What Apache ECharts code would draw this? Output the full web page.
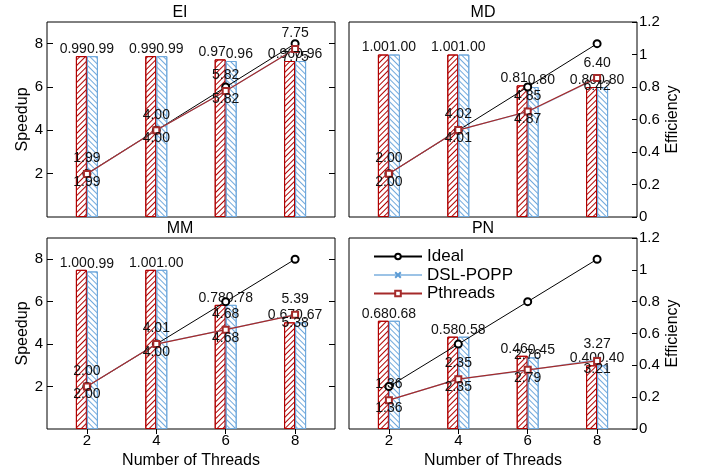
<!DOCTYPE html>
<html><head><meta charset="utf-8">
<script src="https://cdn.jsdelivr.net/npm/echarts@6/dist/echarts.min.js"></script>
<style>html,body{margin:0;padding:0;background:#fff}#c{width:706px;height:470px}</style>
</head><body><div id="c"></div>
<script>
const threads = [2, 4, 6, 8];
const panelNames = ['EI', 'MD', 'MM', 'PN'];
const idealSpeedup = [2, 4, 6, 8];

const eiPthreadsSpeedup = [1.99, 4.00, 5.82, 7.75];
const eiDslSpeedup      = [1.99, 4.00, 5.82, 7.75];
const eiPthreadsEff     = [0.99, 0.99, 0.97, 0.96];
const eiDslEff          = [0.99, 0.99, 0.96, 0.96];

const mdPthreadsSpeedup = [2.00, 4.01, 4.87, 6.42];
const mdDslSpeedup      = [2.00, 4.02, 4.85, 6.40];
const mdPthreadsEff     = [1.00, 1.00, 0.81, 0.80];
const mdDslEff          = [1.00, 1.00, 0.80, 0.80];

const mmPthreadsSpeedup = [2.00, 4.00, 4.68, 5.38];
const mmDslSpeedup      = [2.00, 4.01, 4.68, 5.39];
const mmPthreadsEff     = [1.00, 1.00, 0.78, 0.67];
const mmDslEff          = [0.99, 1.00, 0.78, 0.67];

const pnPthreadsSpeedup = [1.36, 2.35, 2.79, 3.21];
const pnDslSpeedup      = [1.36, 2.35, 2.76, 3.27];
const pnPthreadsEff     = [0.68, 0.58, 0.46, 0.40];
const pnDslEff          = [0.68, 0.58, 0.45, 0.40];

const speedupTicks = [2, 4, 6, 8];

const panelData = [
  [eiPthreadsSpeedup, eiDslSpeedup, eiPthreadsEff, eiDslEff],
  [mdPthreadsSpeedup, mdDslSpeedup, mdPthreadsEff, mdDslEff],
  [mmPthreadsSpeedup, mmDslSpeedup, mmPthreadsEff, mmDslEff],
  [pnPthreadsSpeedup, pnDslSpeedup, pnPthreadsEff, pnDslEff]
];

const FONT = 'Liberation Sans';
const NARROW = "'Liberation Sans Narrow', 'Liberation Sans'";
const RED = '#b00000';
const RED_LINE = '#a52a2a';
const BLUE = '#6fa8dc';
const BLUE_LINE = '#9cc3e6';
const BLUE_MARK = '#5b9bd5';

const gridPos = [
  {left: 47, top: 22}, {left: 349, top: 22},
  {left: 47, top: 238}, {left: 349, top: 238}
];
const grids = gridPos.map(p => ({left: p.left, top: p.top, width: 288, height: 195,
  show: true, borderColor: '#000', borderWidth: 1, backgroundColor: 'transparent'}));

const xAxes = [], yAxes = [], series = [];
const zip = (xs, ys) => xs.map((x, i) => [x, ys[i]]);

panelNames.forEach((name, g) => {
  const isBottom = g >= 2, isLeft = g % 2 === 0;
  const xi = xAxes.length;
  xAxes.push({
    gridIndex: g, type: 'value', min: 0.85, max: 9.15, position: 'bottom',
    axisLine: {show: false}, splitLine: {show: false},
    axisTick: {show: isBottom, inside: true, length: 5, customValues: threads, lineStyle: {color: '#000'}},
    axisLabel: {show: isBottom, customValues: threads, margin: 4, color: '#000', fontSize: 15, fontFamily: FONT},
    name: isBottom ? 'Number of Threads' : '', nameLocation: 'middle', nameGap: 24,
    nameTextStyle: {color: '#000', fontSize: 16, fontFamily: NARROW}
  });
  if (isBottom) {
    xAxes.push({
      gridIndex: g, type: 'value', min: 0.85, max: 9.15, position: 'top',
      axisLine: {show: false}, splitLine: {show: false},
      axisTick: {show: true, inside: true, length: 5, customValues: threads, lineStyle: {color: '#000'}},
      axisLabel: {show: false}
    });
  }
  const ySp = yAxes.length;
  yAxes.push({
    gridIndex: g, type: 'value', min: 0, max: 9, position: 'left', show: isLeft,
    axisLine: {show: false}, splitLine: {show: false},
    axisTick: {show: true, inside: true, length: 6, customValues: speedupTicks, lineStyle: {color: '#000'}},
    axisLabel: {customValues: speedupTicks, margin: 4, color: '#000', fontSize: 15, fontFamily: FONT},
    name: 'Speedup', nameLocation: 'middle', nameGap: 13, nameRotate: 90,
    nameTextStyle: {color: '#000', fontSize: 16, fontFamily: NARROW}
  });
  const yEf = yAxes.length;
  yAxes.push({
    gridIndex: g, type: 'value', min: 0, max: 1.2, interval: 0.2, position: 'right', show: !isLeft,
    axisLine: {show: false}, splitLine: {show: false},
    axisTick: {show: true, inside: true, length: 5, lineStyle: {color: '#000'}},
    axisLabel: {margin: 2, color: '#000', fontSize: 15, fontFamily: FONT},
    name: 'Efficiency', nameLocation: 'middle', nameGap: 28, nameRotate: 90,
    nameTextStyle: {color: '#000', fontSize: 16, fontFamily: NARROW}
  });
  if (isLeft) {
    yAxes.push({
      gridIndex: g, type: 'value', min: 0, max: 9, position: 'right',
      axisLine: {show: false}, splitLine: {show: false},
      axisTick: {show: true, inside: true, length: 6, customValues: speedupTicks, lineStyle: {color: '#000'}},
      axisLabel: {show: false}
    });
  }
  const [pthS, dslS, pthE, dslE] = panelData[g];
  const labelStyle = {color: '#111', fontSize: 14, fontFamily: FONT};
  series.push({
    name: 'Pthreads efficiency', type: 'bar', xAxisIndex: xi, yAxisIndex: yEf,
    data: zip(threads, pthE), barWidth: 11, barGap: '0%', z: 1,
    itemStyle: {color: '#fff', borderColor: RED, borderWidth: 1,
      decal: {symbol: 'rect', symbolSize: 1, color: RED, backgroundColor: 'rgba(0,0,0,0)',
        dashArrayX: [1, 0], dashArrayY: [1, 2.4], rotation: -Math.PI / 4}},
    label: Object.assign({show: true, position: 'top', distance: 0, align: 'right', offset: [5.5, 0],
      formatter: p => p.value[1].toFixed(2)}, labelStyle),
    emphasis: {disabled: true}
  });
  series.push({
    name: 'DSL-POPP efficiency', type: 'bar', xAxisIndex: xi, yAxisIndex: yEf,
    data: zip(threads, dslE), barWidth: 11, barGap: '0%', z: 1,
    itemStyle: {color: '#fff', borderColor: BLUE, borderWidth: 1,
      decal: {symbol: 'rect', symbolSize: 1, color: BLUE, backgroundColor: 'rgba(0,0,0,0)',
        dashArrayX: [1, 0], dashArrayY: [1, 2.4], rotation: Math.PI / 4}},
    label: Object.assign({show: true, position: 'top', distance: 0, align: 'left', offset: [-5.5, 0],
      formatter: p => p.value[1].toFixed(2)}, labelStyle),
    emphasis: {disabled: true}
  });
  series.push({
    name: 'Ideal', type: 'line', xAxisIndex: xi, yAxisIndex: ySp,
    data: zip(threads, idealSpeedup), symbol: 'emptyCircle', symbolSize: 7, z: 3,
    lineStyle: {color: '#000', width: 1}, itemStyle: {color: '#000', borderWidth: 1},
    emphasis: {disabled: true}
  });
  series.push({
    name: 'DSL-POPP', type: 'line', xAxisIndex: xi, yAxisIndex: ySp,
    data: zip(threads, dslS), symbol: 'path://M0,0L10,10M10,0L0,10', symbolSize: 6, z: 4,
    lineStyle: {color: BLUE_LINE, width: 1.2}, itemStyle: {color: BLUE_MARK, borderColor: BLUE_MARK, borderWidth: 1},
    label: Object.assign({show: true, position: 'top', distance: 5,
      formatter: p => p.value[1].toFixed(2)}, labelStyle),
    emphasis: {disabled: true}
  });
  series.push({
    name: 'Pthreads', type: 'line', xAxisIndex: xi, yAxisIndex: ySp,
    data: zip(threads, pthS), symbol: 'emptyRect', symbolSize: 6, z: 5,
    lineStyle: {color: RED_LINE, width: 1.2}, itemStyle: {color: RED_LINE, borderWidth: 1},
    label: Object.assign({show: true, position: 'inside', offset: [0, 8],
      formatter: p => p.value[1].toFixed(2)}, labelStyle),
    emphasis: {disabled: true}
  });
});

const titleX = [180, 483, 180, 483];
const titleY = [13, 13, 229, 229];
const graphic = panelNames.map((n, i) => ({
  type: 'text', x: titleX[i], y: titleY[i], z: 10,
  style: {text: n, textAlign: 'center', textVerticalAlign: 'middle', fill: '#000',
    font: "16px 'Liberation Sans Narrow', 'Liberation Sans'"}
}));

const chart = echarts.init(document.getElementById('c'), null, {renderer: 'canvas'});
chart.setOption({
  animation: false,
  backgroundColor: '#fff',
  grid: grids,
  xAxis: xAxes,
  yAxis: yAxes,
  graphic: graphic,
  legend: {
    data: ['Ideal', 'DSL-POPP', 'Pthreads'], orient: 'vertical', left: 368, top: 243,
    itemWidth: 48, itemHeight: 7, itemGap: 1.5, selectedMode: false,
    textStyle: {color: '#000', fontSize: 17, fontFamily: NARROW}
  },
  series: series
});
</script></body></html>
